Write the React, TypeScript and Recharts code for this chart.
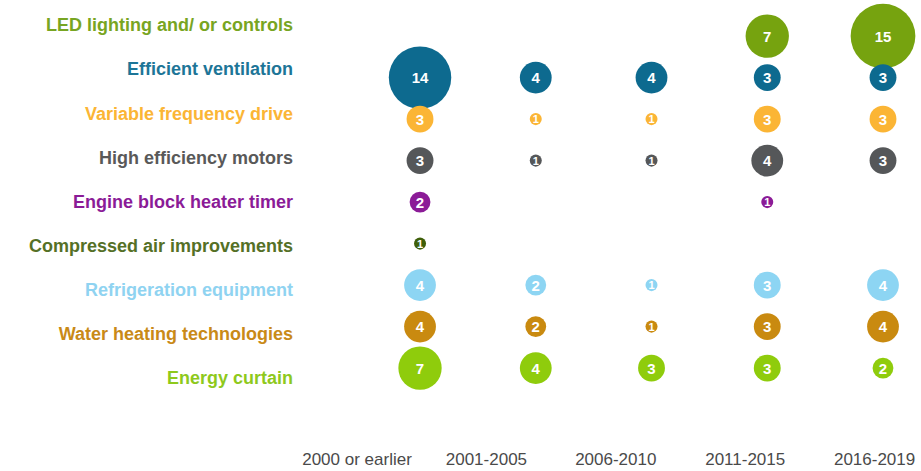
import React from 'react';
import { ScatterChart, Scatter, XAxis, YAxis, ZAxis } from 'recharts';

const categories = [
  'LED lighting and/ or controls',
  'Efficient ventilation',
  'Variable frequency drive',
  'High efficiency motors',
  'Engine block heater timer',
  'Compressed  air  improvements',
  'Refrigeration equipment',
  'Water heating technologies',
  'Energy  curtain',
];

const periods = ['2000 or earlier', '2001-2005', '2006-2010', '2011-2015', '2016-2019'];

const ledLighting = [null, null, null, 7, 15];
const ventilation = [14, 4, 4, 3, 3];
const frequencyDrive = [3, 1, 1, 3, 3];
const motors = [3, 1, 1, 4, 3];
const heaterTimer = [2, null, null, 1, null];
const compressedAir = [1, null, null, null, null];
const refrigeration = [4, 2, 1, 3, 4];
const waterHeating = [4, 2, 1, 3, 4];
const energyCurtain = [7, 4, 3, 3, 2];

const seriesValues = [
  ledLighting, ventilation, frequencyDrive, motors, heaterTimer,
  compressedAir, refrigeration, waterHeating, energyCurtain,
];

const bubbleColors = ['#76a30f', '#0d6a8f', '#fbb535', '#555759', '#8b1b97', '#3f5f0a', '#8dd5f3', '#c98a10', '#8fcc0c'];
const textColors = ['#78a522', '#1d7597', '#fbb535', '#595959', '#8b1b97', '#557026', '#8fd3f1', '#c98a17', '#8ec91c'];

const rowTicks = categories.map((_, i) => i);
const periodTicks = periods.map((_, i) => i);

const seriesData = seriesValues.map((values, row) =>
  values
    .map((v, col) => (v == null ? null : { x: col, y: row, z: v }))
    .filter((d) => d !== null)
);

// anchors for the label axes (drawn invisibly so the axes get rendered)
const labelAnchors = categories.map((_, i) => ({ lx: 0, ly: i }));

const font = '"Liberation Sans", Arial, sans-serif';

const RowTick = (props: any) => {
  const { x, y, payload } = props;
  return (
    <text x={x} y={y} dx={-4} dy="0.35em" textAnchor="end" fill={textColors[payload.value]}
      fontFamily={font} fontWeight="bold" fontSize={18}>
      {categories[payload.value]}
    </text>
  );
};

const PeriodTick = (props: any) => {
  const { x, y, payload } = props;
  return (
    <g transform={`translate(${x},${y + 45})`}>
      <text x={0} y={0} dy="0.71em" textAnchor="middle" fill="#4a4a4a" fontFamily={font} fontSize={17}>
        {periods[payload.value]}
      </text>
    </g>
  );
};

const Bubble = (props: any) => {
  const { cx, cy, width, fill, payload } = props;
  const r = width / 2;
  return (
    <g>
      <circle cx={cx} cy={cy} r={r} fill={fill} />
      <text x={cx} y={cy} dy="0.36em" textAnchor="middle" fill="#fff" fontFamily={font}
        fontWeight="bold" fontSize={payload.z === 1 ? 11 : 15}>
        {payload.z}
      </text>
    </g>
  );
};

const Nothing = () => <g />;

const App = () => {
  return (
    <div style={{ position: 'absolute', left: 0, top: 0, background: '#fff' }}>
      <ScatterChart width={921} height={471} margin={{ top: 25, right: 38, left: 0, bottom: 0 }}>
        <XAxis xAxisId="labels" type="number" dataKey="lx" domain={[0, 4.065]} ticks={periodTicks}
          height={93} tickSize={0} tickMargin={0} axisLine={false} tickLine={false}
          tick={<PeriodTick />} interval={0} />
        <XAxis xAxisId="bubbles" type="number" dataKey="x" domain={[-0.5445, 4]} hide />
        <YAxis yAxisId="labels" type="number" dataKey="ly" domain={[0, 8]} ticks={rowTicks} reversed
          width={357} tickSize={0} tickMargin={0} axisLine={false} tickLine={false}
          tick={<RowTick />} interval={0} />
        <YAxis yAxisId="bubbles" type="number" dataKey="y" domain={[-0.268, 8.238]} reversed hide />
        <ZAxis type="number" dataKey="z" domain={[0.5, 15]} range={[0, 3290]} />
        <Scatter data={labelAnchors} xAxisId="labels" yAxisId="labels" dataKey="ly"
          shape={<Nothing />} isAnimationActive={false} />
        {seriesData.map((data, i) => (
          <Scatter key={categories[i]} name={categories[i]} data={data}
            xAxisId="bubbles" yAxisId="bubbles" fill={bubbleColors[i]}
            shape={<Bubble />} isAnimationActive={false} />
        ))}
      </ScatterChart>
    </div>
  );
};

export default App;
